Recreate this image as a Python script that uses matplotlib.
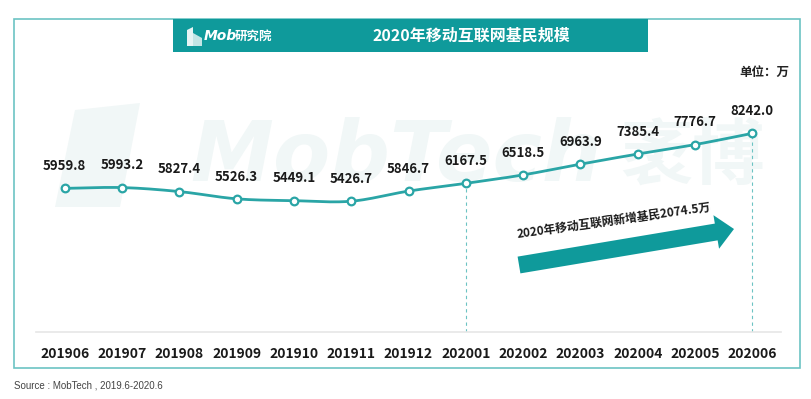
import matplotlib.pyplot as plt
import matplotlib.patches as mpatches
import numpy as np

plt.rcParams['font.family'] = ['Noto Sans CJK SC', 'DejaVu Sans']

# Data
months = ['201906', '201907', '201908', '201909', '201910', '201911', '201912',
          '202001', '202002', '202003', '202004', '202005', '202006']
users = [5959.8, 5993.2, 5827.4, 5526.3, 5449.1, 5426.7, 5846.7,
         6167.5, 6518.5, 6963.9, 7385.4, 7776.7, 8242.0]
title = '2020年移动互联网基民规模'
note = '2020年移动互联网新增基民2074.5万'

W, H = 811, 399
teal = '#0f9a9b'
line_c = '#2aa5a6'
wm_c = '#f1f7f7'


def fx(x):
    return x / W


def fy(y):
    return 1 - y / H


fig = plt.figure(figsize=(W / 100, H / 100), dpi=100)

# outer frame
fig.patches.append(mpatches.Rectangle((fx(14), fy(368)), fx(800) - fx(14), fy(19) - fy(368),
                                      transform=fig.transFigure, fill=False,
                                      edgecolor='#6cc3c3', lw=1.2, zorder=0))
# title banner
fig.patches.append(mpatches.Rectangle((fx(173), fy(52)), fx(648) - fx(173), fy(19) - fy(52),
                                      transform=fig.transFigure, facecolor=teal,
                                      edgecolor='none', zorder=1))
fig.text(fx(471), fy(35.5), title, color='white', fontsize=11.5, fontweight='bold',
         ha='center', va='center', zorder=3)
# logo in banner
fig.patches.append(mpatches.Polygon([(fx(187), fy(46)), (fx(187), fy(30)), (fx(193), fy(27)),
                                     (fx(193), fy(46))], closed=True, transform=fig.transFigure,
                                    facecolor='white', edgecolor='none', zorder=3, alpha=0.9))
fig.patches.append(mpatches.Polygon([(fx(193), fy(46)), (fx(193), fy(33)), (fx(202), fy(38)),
                                     (fx(202), fy(46))], closed=True, transform=fig.transFigure,
                                    facecolor='white', edgecolor='none', zorder=3, alpha=0.75))
fig.text(fx(204), fy(36.5), 'Mob', color='white', fontsize=10, fontweight='bold',
         style='italic', family='DejaVu Sans', ha='left', va='center', zorder=3)
fig.text(fx(235), fy(36.5), '研究院', color='white', fontsize=9, fontweight='bold',
         ha='left', va='center', zorder=3)

fig.text(fx(789), fy(72), '单位：万', fontsize=9, fontweight='bold', ha='right',
         va='center', color='#222222')
fig.text(fx(14), fy(385), 'Source : MobTech , 2019.6-2020.6', fontsize=7,
         family='Liberation Sans', color='#444444', ha='left', va='center')

# watermark (kept behind the axes)
fig.text(fx(190), fy(158), 'MobTech', fontsize=60, fontweight='bold', style='italic',
         family='DejaVu Sans', color=wm_c, ha='left', va='center', zorder=-1)
fig.text(fx(620), fy(158), '袤博', fontsize=52, fontweight='bold',
         color=wm_c, ha='left', va='center', zorder=-1)
fig.patches.append(mpatches.Polygon([(fx(55), fy(207)), (fx(75), fy(110)), (fx(140), fy(103)),
                                     (fx(120), fy(207))], closed=True, transform=fig.transFigure,
                                    facecolor=wm_c, edgecolor='none', zorder=-1))

# main axes
ax = fig.add_axes([fx(36), fy(332), fx(781) - fx(36), fy(91) - fy(332)])
ax.set_xlim(-0.5, len(months) - 0.5)
ax.set_ylim(0, 10000)
ax.patch.set_alpha(0)
for s in ['top', 'right', 'left']:
    ax.spines[s].set_visible(False)
ax.spines['bottom'].set_color('#e6e6e6')
ax.spines['bottom'].set_linewidth(1.2)
ax.set_yticks([])
x = np.arange(len(months))
ax.set_xticks(x)
ax.set_xticklabels(months, fontsize=10, fontweight='bold', color='#1a1a1a')
ax.tick_params(axis='x', length=0, pad=11)

# smooth curve (cubic Hermite through the points)
y = np.array(users)
m = np.gradient(y, x)
xs, ys = [], []
for i in range(len(x) - 1):
    t = np.linspace(0, 1, 20)
    h00 = 2 * t**3 - 3 * t**2 + 1
    h10 = t**3 - 2 * t**2 + t
    h01 = -2 * t**3 + 3 * t**2
    h11 = t**3 - t**2
    xs.append(x[i] + t)
    ys.append(h00 * y[i] + h10 * m[i] + h01 * y[i + 1] + h11 * m[i + 1])
ax.plot(np.concatenate(xs), np.concatenate(ys), color=line_c, lw=2, zorder=3)
ax.plot(x, y, 'o', ms=5.5, mfc='white', mec=line_c, mew=1.6, zorder=4)
for xi, yi in zip(x, users):
    ax.annotate(f'{yi:.1f}', (xi, yi), xytext=(0, 11), textcoords='offset points',
                ha='center', va='bottom', fontsize=9.5, fontweight='bold', color='#1a1a1a')

# dashed guides
for i in [7, 12]:
    ax.vlines(x[i], 0, users[i], colors='#6cc3c3', linestyles=(0, (3, 3)), lw=0.8, zorder=2)

# growth arrow
tail = np.array([519.0, 265.0])
tip = np.array([734.0, 229.0])
d = (tip - tail) / np.linalg.norm(tip - tail)
n = np.array([d[1], -d[0]])
hl, sw, hw = 18, 8.5, 17
base = tip - d * hl
pts = [tail + n * sw, base + n * sw, base + n * hw, tip, base - n * hw, base - n * sw, tail - n * sw]
fig.patches.append(mpatches.Polygon([(fx(p[0]), fy(p[1])) for p in pts], closed=True,
                                    transform=fig.transFigure, facecolor=teal,
                                    edgecolor='none', zorder=5))
ang = np.degrees(np.arctan2(tail[1] - tip[1], tip[0] - tail[0]))
fig.text(fx(614), fy(221), note, fontsize=8.5, fontweight='bold', rotation=ang - 1.5,
         rotation_mode='anchor', ha='center', va='center', color='#1a1a1a', zorder=5)

fig.savefig('out.png', dpi=100)
